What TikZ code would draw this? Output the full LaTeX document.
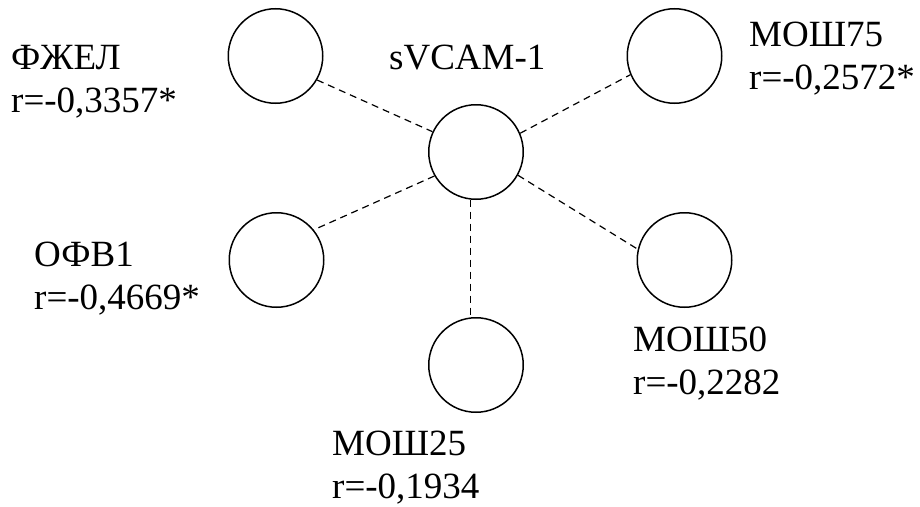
\documentclass[tikz,border=0pt]{standalone}
\usepackage{fontspec}
\setmainfont{Liberation Serif}
\begin{document}
\begin{tikzpicture}[x=1pt,y=-1pt,
  var/.style={circle,draw,line width=1.5pt,minimum size=94.5pt,inner sep=0pt},
  link/.style={dash pattern=on 7pt off 5pt,line width=1.2pt},
  lbl/.style={anchor=base west,inner sep=0pt,font=\fontsize{37}{43}\selectfont}]
\useasboundingbox (0,0) rectangle (920,506);

% factor circles
\node[var] (c)  at (476,152) {};
\node[var] (fj) at (275.5,56) {};
\node[var] (m75) at (674.5,56) {};
\node[var] (ofv) at (276.5,260) {};
\node[var] (m50) at (684.5,260) {};
\node[var] (m25) at (476,365) {};

% correlation links
\draw[link] (fj.-30) -- (c.155);
\draw[link] (c.23) -- (m75.-157);
\draw[link] (c.210) -- (ofv.39);
\draw[link] (c.-29) -- (m50.167);
\draw[link] (c.-97) -- (m25.97);

% labels
\node[lbl] (tc) at (389,69) {sVCAM-1};
\node[lbl] (tfj) at (11,69) {\begin{tabular}[t]{@{}l@{}}ФЖЕЛ\\r=-0,3357*\end{tabular}};
\node[lbl] (tm75) at (749,46) {\begin{tabular}[t]{@{}l@{}}МОШ75\\r=-0,2572*\end{tabular}};
\node[lbl] (tofv) at (34,266) {\begin{tabular}[t]{@{}l@{}}ОФВ1\\r=-0,4669*\end{tabular}};
\node[lbl] (tm50) at (633,351) {\begin{tabular}[t]{@{}l@{}}МОШ50\\r=-0,2282\end{tabular}};
\node[lbl] (tm25) at (332,455) {\begin{tabular}[t]{@{}l@{}}МОШ25\\r=-0,1934\end{tabular}};
\end{tikzpicture}
\end{document}
